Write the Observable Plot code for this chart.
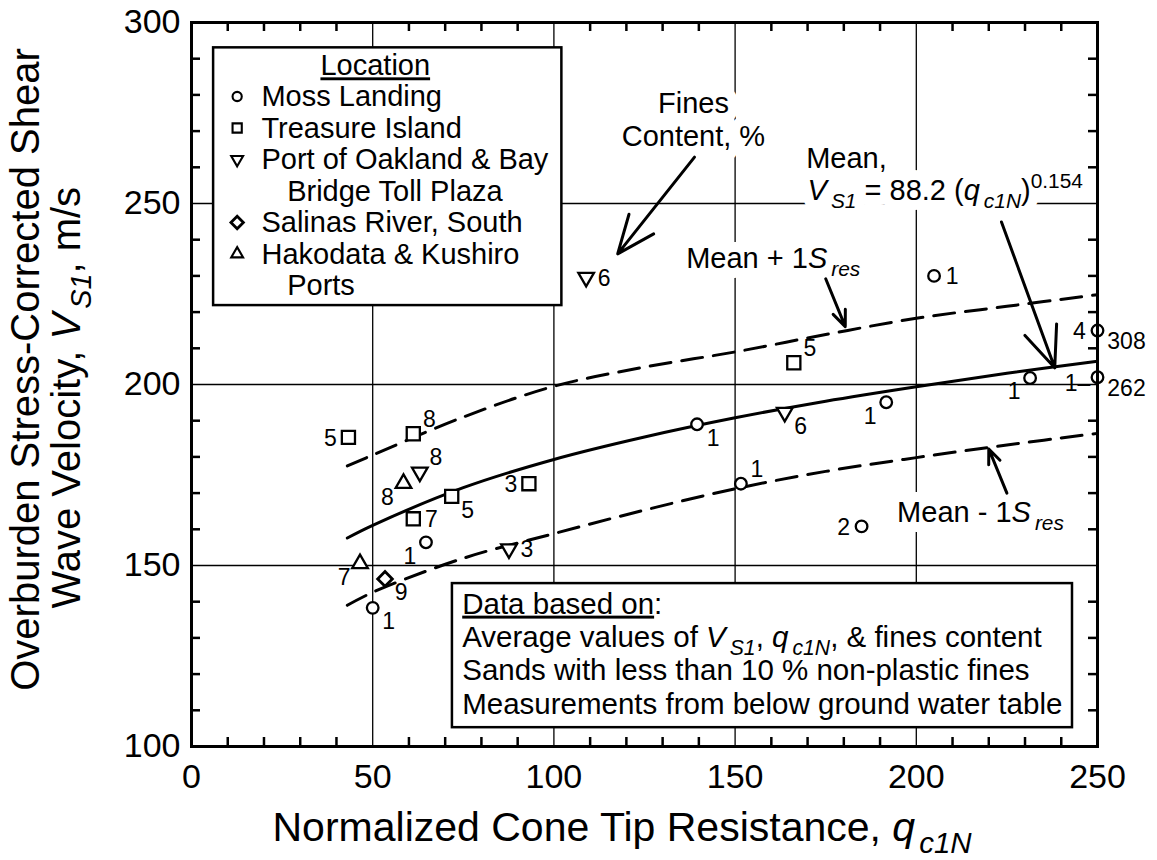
<!DOCTYPE html>
<html><head><meta charset="utf-8">
<script src="https://cdn.jsdelivr.net/npm/d3@7"></script>
<script src="https://cdn.jsdelivr.net/npm/@observablehq/plot@0.6"></script>
<style>
body{margin:0;background:#fff;}
#chart svg{display:block;}
</style></head><body><div id="chart"></div>
<script>
// ---------- data ----------
const xMajor = [0, 50, 100, 150, 200, 250];
const yMajor = [100, 150, 200, 250, 300];

const locations = ["Moss Landing", "Treasure Island", "Port of Oakland & Bay|Bridge Toll Plaza", "Salinas River, South", "Hakodata & Kushiro|Ports"];

// Moss Landing (circles)
const mossQ  = [50.0, 64.7, 139.5, 151.6, 191.7, 204.9, 184.9, 231.4, 250, 250];
const mossV  = [138.3, 156.4, 189.0, 172.6, 195.1, 230.0, 160.8, 201.8, 214.9, 202.0];
const mossFC = ["1", "1", "1", "1", "1", "1", "2", "1", "4", "1–"];
const mossPos = ["se", "sw", "se", "ne", "sw", "e", "w", "sw", "w", "w2"];
const mossOffscale = [null, null, null, null, null, null, null, null, "308", "262"];

// Treasure Island (squares)
const tiQ  = [43.3, 61.2, 71.8, 61.2, 93.1, 166.2];
const tiV  = [185.4, 186.4, 169.1, 162.9, 172.6, 206.0];
const tiFC = ["5", "8", "5", "7", "3", "5"];
const tiPos = ["w", "ne", "se", "e", "w", "ne"];

// Port of Oakland & Bay Bridge Toll Plaza (down triangles)
const poQ  = [108.9, 63.0, 87.6, 163.7];
const poV  = [229.6, 175.8, 154.6, 192.3];
const poFC = ["6", "8", "3", "6"];
const poPos = ["e", "ne", "e", "se"];

// Salinas River, South (diamond)
const srQ  = [53.4];
const srV  = [146.3];
const srFC = ["9"];
const srPos = ["se"];

// Hakodata & Kushiro Ports (up triangles)
const hkQ  = [58.5, 46.5];
const hkV  = [172.7, 150.5];
const hkFC = ["8", "7"];
const hkPos = ["sw", "sw"];

// Curves
const curveQ = [43, 50, 75, 100, 125, 150, 175, 200, 225, 250];
const meanV  = [157.6, 161.1, 171.5, 179.3, 185.5, 190.8, 195.4, 199.4, 203.1, 206.4];
const upperV = [177.5, 180.5, 191.0, 199.5, 204.8, 209.0, 213.8, 218.3, 221.6, 224.8];
const lowerV = [139.0, 142.6, 152.0, 158.8, 165.3, 171.2, 176.0, 179.8, 183.3, 186.5];

// Annotations
const noteText = ["Fines", "Content, %", "Mean + 1<i>S</i><sub><i>res</i></sub>", "Mean,",
  "<i>V</i><sub><i>S1</i></sub> = 88.2 (<i>q</i><sub><i>c1N</i></sub>)<sup>0.154</sup>",
  "Mean - 1<i>S</i><sub><i>res</i></sub>"];
const noteX = [138.5, 138.5, 136.5, 169.6, 170.0, 194.7];
const noteY = [274.9, 266.0, 232.2, 259.8, 250.9, 161.9];
const noteAnchor = ["middle", "middle", "start", "start", "start", "start"];

const arrowX1 = [138.8, 175.0, 223.5, 225.0];
const arrowY1 = [262.8, 229.2, 244.9, 170.0];
const arrowX2 = [117.6, 180.4, 238.2, 220.0];
const arrowY2 = [236.1, 216.0, 204.6, 182.2];

const boxLines = ["<u>Data based on</u>:",
  "Average values of <i>V</i><sub><i>S1</i></sub>, <i>q</i><sub><i>c1N</i></sub>, & fines content",
  "Sands with less than 10 % non-plastic fines",
  "Measurements from below ground water table"];

const xTitle = "Normalized Cone Tip Resistance, <i>q</i><sub><i>c1N</i></sub>";
const yTitle1 = "Overburden Stress-Corrected Shear";
const yTitle2 = "Wave Velocity, <i>V</i><sub><i>S1</i></sub>, m/s";

// ---------- build ----------
const FONT = "'Liberation Sans', Arial, Helvetica, sans-serif";
const triDown = {draw(ctx, size) {
  const y = -Math.sqrt(size / (Math.sqrt(3) * 3));
  ctx.moveTo(0, -y * 2);
  ctx.lineTo(-Math.sqrt(3) * y, y);
  ctx.lineTo(Math.sqrt(3) * y, y);
  ctx.closePath();
}};
const siteSymbols = ["circle", "square", triDown, "diamond2", "triangle"];
const siteR = [5.8, 7.4, 5.8, 6.6, 5.8];
const siteLegendR = [4.6, 5.2, 4.4, 5.6, 4.4];

const sites = [
  [mossQ, mossV, mossFC, mossPos],
  [tiQ, tiV, tiFC, tiPos],
  [poQ, poV, poFC, poPos],
  [srQ, srV, srFC, srPos],
  [hkQ, hkV, hkFC, hkPos]
];
const points = [];
sites.forEach(([Q, V, F, P], s) => Q.forEach((q, i) => points.push({site: s, q, v: V[i], fc: F[i], pos: P[i]})));
const offscale = mossQ.map((q, i) => ({q, v: mossV[i], t: mossOffscale[i]})).filter(d => d.t);

const offsets = {e: [18, 1], ne: [16, -14], se: [16, 14], w: [-18, 1], sw: [-16, 14], nw: [-16, -14], w2: [-20, 6]};

const curve = (V) => curveQ.map((q, i) => ({q, v: V[i]}));

const minorX = d3.range(10, 250, 10).filter(v => v % 50);
const minorY = d3.range(110, 300, 10).filter(v => v % 50);
const TX = 9 / 3.624, TY = 9 / 3.62;

// legend layout (data units)
const legendRows = [];
locations.forEach((name, s) => name.split("|").forEach((line, k) => legendRows.push({text: line, site: k === 0 ? s : null, cont: k > 0})));
const LEG = {x1: 6.1, x2: 102.2, y1: 221.8, y2: 293.0, title: 285.4, top: 276.8, step: 8.7, sym: 12.6, txt: 19.3, cont: 26.4, mid: 50.7};
legendRows.forEach((r, i) => r.y = LEG.top - i * LEG.step);
const BOX = {x1: 72.0, x2: 243.1, y1: 105.2, y2: 145.0, tx: 74.7, top: 136.7, step: 9.2};

const notes = noteText.map((t, i) => ({t, x: noteX[i], y: noteY[i], a: noteAnchor[i]}));
const noteMarks = (halo) => ["middle", "start"].map(a => Plot.text(notes.filter(d => d.a === a), {
  x: "x", y: "y", text: "t", textAnchor: a, lineAnchor: "bottom", fontSize: 29,
  ...(halo ? {fill: "white", stroke: "white", strokeWidth: 20, strokeLinejoin: "round"} : {fill: "black"})
}));

const marks = [
  // grid
  Plot.ruleX(xMajor.slice(1, -1), {stroke: "black", strokeWidth: 1.3}),
  Plot.ruleY(yMajor.slice(1, -1), {stroke: "black", strokeWidth: 1.3}),
  // white halo under annotation texts (breaks the grid like the original)
  ...noteMarks(true),
  ...noteMarks(false),
  // curves
  Plot.line(curve(upperV), {x: "q", y: "v", curve: "catmull-rom", stroke: "black", strokeWidth: 3, strokeDasharray: "21,11"}),
  Plot.line(curve(lowerV), {x: "q", y: "v", curve: "catmull-rom", stroke: "black", strokeWidth: 3, strokeDasharray: "21,11"}),
  Plot.line(curve(meanV), {x: "q", y: "v", curve: "catmull-rom", stroke: "black", strokeWidth: 3}),
  // arrows
  Plot.arrow(arrowX1.map((x, i) => ({x1: x, y1: arrowY1[i], x2: arrowX2[i], y2: arrowY2[i]})),
    {x1: "x1", y1: "y1", x2: "x2", y2: "y2", stroke: "black", strokeWidth: 3, headLength: 22, headAngle: 45}),
  // points
  ...siteSymbols.map((sym, s) => Plot.dot(points.filter(p => p.site === s),
    {x: "q", y: "v", symbol: sym, r: siteR[s], fill: "white", stroke: "black", strokeWidth: s === 3 ? 2.8 : 2.3})),
  ...Object.entries(offsets).map(([k, [dx, dy]]) => Plot.text(points.filter(p => p.pos === k),
    {x: "q", y: "v", text: "fc", dx, dy, textAnchor: "middle", lineAnchor: "middle", fontSize: 23, fill: "black"})),
  Plot.text(offscale, {x: "q", y: "v", text: "t", dx: 29, dy: 11, textAnchor: "middle", lineAnchor: "middle", fontSize: 23, fill: "black"}),
  // legend box
  Plot.rect([LEG], {x1: "x1", x2: "x2", y1: "y1", y2: "y2", fill: "white", stroke: "black", strokeWidth: 2.5}),
  Plot.text([LEG], {x: "mid", y: "title", text: () => "<u>Location</u>", textAnchor: "middle", lineAnchor: "bottom", fontSize: 29, fill: "black"}),
  Plot.text(legendRows, {x: d => d.cont ? LEG.cont : LEG.txt, y: "y", text: "text", textAnchor: "start", lineAnchor: "bottom", fontSize: 29, fill: "black"}),
  ...siteSymbols.map((sym, s) => Plot.dot(legendRows.filter(r => r.site === s),
    {x: () => LEG.sym, y: "y", dy: -10, symbol: sym, r: siteLegendR[s], fill: "white", stroke: "black", strokeWidth: s === 3 ? 2.8 : 2.1})),
  // data box
  Plot.rect([BOX], {x1: "x1", x2: "x2", y1: "y1", y2: "y2", fill: "white", stroke: "black", strokeWidth: 2.5}),
  Plot.text(boxLines.map((t, i) => ({t, y: BOX.top - i * BOX.step})), {x: () => BOX.tx, y: "y", text: "t", textAnchor: "start", lineAnchor: "bottom", fontSize: 29.5, fill: "black"}),
  // frame + inward ticks
  Plot.frame({stroke: "black", strokeWidth: 3}),
  Plot.ruleX(minorX, {y1: 100, y2: 100 + TY, stroke: "black", strokeWidth: 2.5}),
  Plot.ruleX(minorX, {y1: 300, y2: 300 - TY, stroke: "black", strokeWidth: 2.5}),
  Plot.ruleY(minorY, {x1: 0, x2: TX, stroke: "black", strokeWidth: 2.5}),
  Plot.ruleY(minorY, {x1: 250, x2: 250 - TX, stroke: "black", strokeWidth: 2.5}),
  // axes
  Plot.axisX({ticks: xMajor, tickSize: 0, tickPadding: 17, fontSize: 34, label: null, tickFormat: d => d}),
  Plot.axisY({ticks: yMajor, tickSize: 0, tickPadding: 11, fontSize: 34, label: null, tickFormat: d => d}),
  // axis titles
  Plot.text([xTitle], {frameAnchor: "bottom-left", text: d => d, dx: 81, dy: 94, textAnchor: "start", lineAnchor: "bottom", fontSize: 41, fill: "black"}),
  Plot.text([yTitle1], {frameAnchor: "left", text: d => d, rotate: -90, dx: -153, dy: -15, textAnchor: "middle", lineAnchor: "bottom", fontSize: 40, fill: "black"}),
  Plot.text([yTitle2], {frameAnchor: "left", text: d => d, rotate: -90, dx: -112, dy: 224, textAnchor: "start", lineAnchor: "bottom", fontSize: 40, fill: "black"})
];

const chart = Plot.plot({
  width: 1157, height: 860,
  marginLeft: 191, marginRight: 60, marginTop: 22, marginBottom: 114,
  x: {domain: [0, 250]},
  y: {domain: [100, 300]},
  style: {fontFamily: FONT, background: "white", color: "black", overflow: "visible"},
  marks
});
document.getElementById("chart").appendChild(chart);

// rich text: <i>, <sub>, <sup>, <u>  (baseline-shift; anchor handled by measuring)
function richify(root) {
  root.querySelectorAll("text").forEach(t => {
    const s = t.textContent;
    if (!/<(i|sub|sup|u)>/.test(s)) return;
    const cs = getComputedStyle(t);
    const fs = parseFloat(cs.fontSize) || 16;
    const anchor = cs.textAnchor;
    while (t.firstChild) t.removeChild(t.firstChild);
    let it = false, sub = false, sup = false, u = false, prevItalic = false;
    s.split(/(<\/?(?:i|sub|sup|u)>)/).forEach(tok => {
      if (!tok) return;
      const m = tok.match(/^<(\/?)(i|sub|sup|u)>$/);
      if (m) {
        const on = !m[1];
        if (m[2] === "i") it = on; else if (m[2] === "sub") sub = on; else if (m[2] === "sup") sup = on; else u = on;
        return;
      }
      const ts = document.createElementNS("http://www.w3.org/2000/svg", "tspan");
      if (it) ts.setAttribute("font-style", "italic");
      if (sub || sup) {
        ts.setAttribute("font-size", (fs * 0.72).toFixed(1));
        ts.style.baselineShift = (sub ? -fs * 0.28 : fs * 0.42).toFixed(1) + "px";
        if (sub) ts.setAttribute("dx", prevItalic ? "4" : "2");
      }
      if (u) ts.setAttribute("text-decoration", "underline");
      ts.textContent = tok;
      t.appendChild(ts);
      prevItalic = it && !sub && !sup;
    });
    if (anchor === "middle" || anchor === "end") {
      const L = t.getComputedTextLength();
      t.style.textAnchor = "start";
      t.setAttribute("text-anchor", "start");
      t.setAttribute("x", (anchor === "middle" ? -L / 2 : -L).toFixed(1));
    }
  });
}
richify(chart);
</script>
</body></html>
